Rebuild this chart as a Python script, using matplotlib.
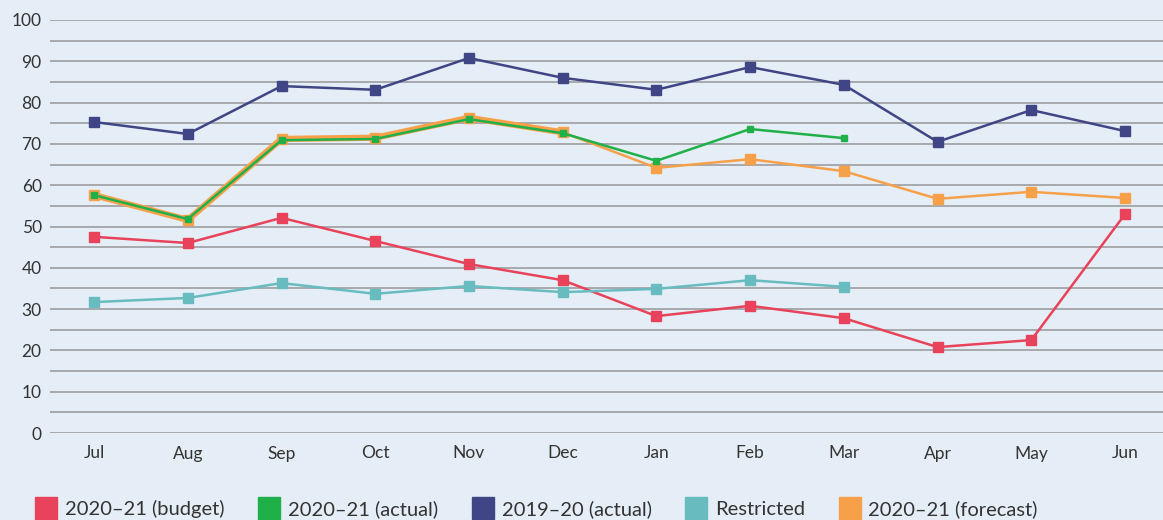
import matplotlib
matplotlib.use("Agg")
import matplotlib.pyplot as plt
from matplotlib.lines import Line2D

plt.rcParams['font.family'] = ['Lato', 'DejaVu Sans']

months = ['Jul', 'Aug', 'Sep', 'Oct', 'Nov', 'Dec', 'Jan', 'Feb', 'Mar', 'Apr', 'May', 'Jun']

budget_2021 = [47.5, 46.0, 52.1, 46.5, 40.9, 37.0, 28.3, 30.8, 27.8, 20.8, 22.5, 53.0]
actual_2021 = [57.6, 51.8, 70.9, 71.2, 76.0, 72.6, 65.9, 73.6, 71.4]
actual_1920 = [75.3, 72.4, 84.0, 83.1, 90.8, 86.0, 83.1, 88.6, 84.3, 70.5, 78.2, 73.1]
restricted = [31.7, 32.7, 36.3, 33.7, 35.6, 34.1, 34.9, 37.0, 35.4]
forecast_2021 = [57.6, 51.6, 71.2, 71.5, 76.3, 72.8, 64.2, 66.3, 63.4, 56.7, 58.4, 56.9]

c_red = '#e8435a'
c_green = '#1fb04a'
c_navy = '#3f4585'
c_teal = '#68bcbf'
c_orange = '#f7a04a'
bg = '#e5eef6'

fig = plt.figure(figsize=(11.63, 5.2), dpi=100, facecolor=bg)
ax = fig.add_axes([50 / 1163, 87 / 520, 1113 / 1163, 413 / 520])
ax.set_facecolor(bg)

x = list(range(len(months)))

ax.plot(x, actual_1920, color=c_navy, lw=1.8, marker='s', ms=6.5, zorder=3)
ax.plot(x, budget_2021, color=c_red, lw=1.8, marker='s', ms=6.5, zorder=3)
ax.plot(x[:len(restricted)], restricted, color=c_teal, lw=1.8, marker='s', ms=6.5, zorder=3)
# forecast drawn wide underneath so the actual line sits inside an orange outline
ax.plot(x, forecast_2021, color=c_orange, lw=1.8, marker='s', ms=7.5, zorder=3)
ax.plot(x[:6], forecast_2021[:6], color=c_orange, lw=4.5, zorder=3)
ax.plot(x[:len(actual_2021)], actual_2021, color=c_green, lw=1.8, marker='s', ms=5, zorder=4)

ax.set_xlim(-0.47, 11.405)
ax.set_ylim(0, 100)
ax.set_yticks(range(0, 101, 10))
ax.set_yticks(range(5, 100, 10), minor=True)
ax.set_xticks(x)
ax.set_xticklabels(months)
ax.grid(axis='y', which='both', color='#a7a9ac', lw=1.4, zorder=1)
ax.tick_params(axis='both', which='both', length=0, labelsize=12.5, colors='#333333')
ax.tick_params(axis='y', pad=6)
ax.tick_params(axis='x', pad=9)
for s in ax.spines.values():
    s.set_visible(False)

labels = ['2020–21 (budget)', '2020–21 (actual)', '2019–20 (actual)', 'Restricted', '2020–21 (forecast)']
colors = [c_red, c_green, c_navy, c_teal, c_orange]
handles = [Line2D([], [], ls='none', marker='s', ms=16, color=c, mec=c) for c in colors]
fig.legend(handles, labels, loc='lower left', bbox_to_anchor=(0.023, -0.012), ncol=5,
           frameon=False, fontsize=14.5, handletextpad=0.35, handlelength=1.15,
           columnspacing=1.65, labelcolor='#333333', borderaxespad=0)

fig.savefig('out.png', dpi=100, facecolor=bg)
